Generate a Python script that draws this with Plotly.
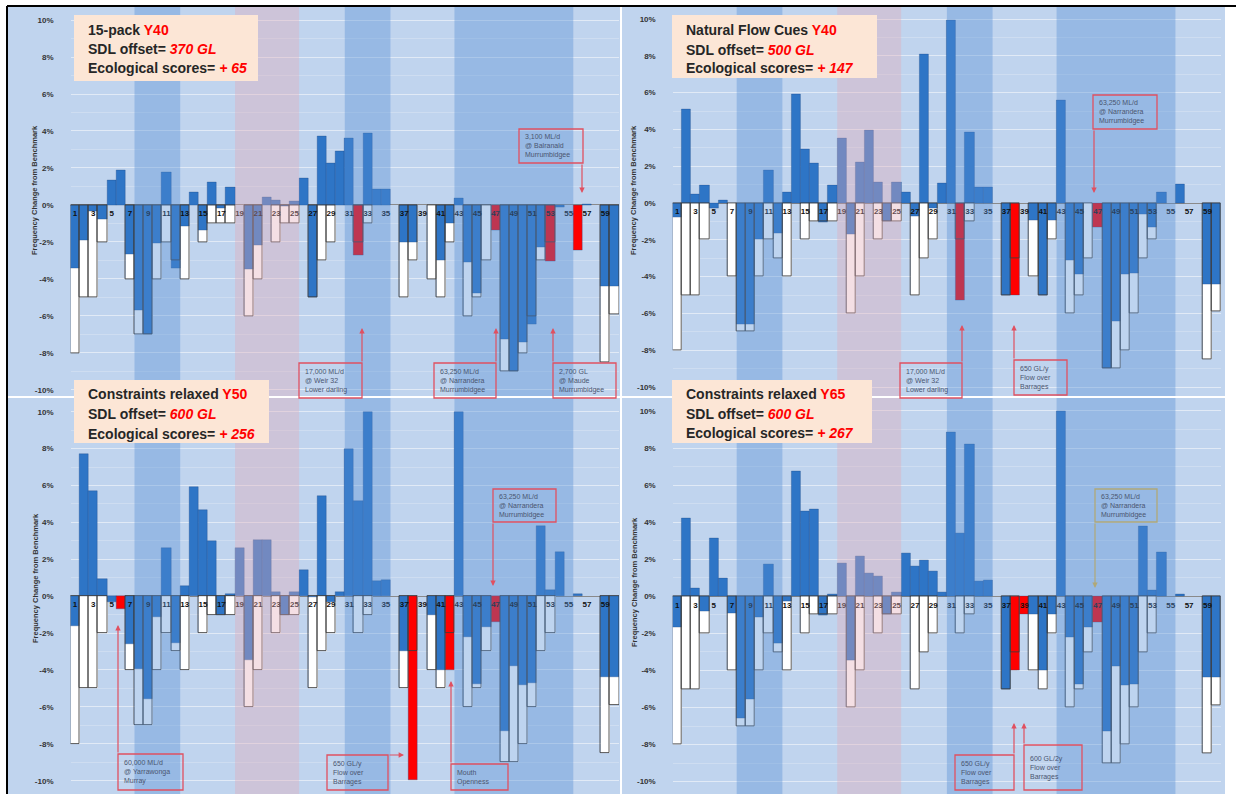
import plotly.graph_objects as go

W, H = 1236, 794

# ---------------- data ----------------
CATEGORIES = list(range(1, 61))
CAT_LABELS = [str(c) if c % 2 == 1 else "" for c in CATEGORIES]
Y_TICKS = [-10, -8, -6, -4, -2, 0, 2, 4, 6, 8, 10]
Y_TICK_TEXT = [f"{v}%" for v in Y_TICKS]

# benchmark target (white outlined bars), shared by the four scenarios
TARGET = [-8, -5, -5, -2, 0, 0, -4, -7, -7, -4,
          -2, -3, -4, 0, -2, -1, -1, -1, 0, -6,
          -4, 0, -2, -1, -1, 0, -5, -3, -2, 0,
          0, -2, -1, 0, 0, 0, -5, -3, 0, -4,
          -5, -2, 0, -6, -5, -3, 0, -9, -9, -8,
          -6, -3, -2, 0, 0, 0, 0, 0, -8.5, -5.9]

VAL_15PACK = [-3.4, -1.9, -0.35, -0.8, 1.35, 1.86, -2.65, -5.7, -7.0, -2.07,
              1.77, -3.4, -1.17, 0.68, -1.39, 1.24, -0.2, 0.95, 0, -3.48,
              -2.16, 0.4, 0.25, -0.05, 0.2, 1.44, -5.0, 3.69, 2.25, 2.88,
              3.6, -2.7, 3.87, 0.85, 0.85, 0, -2.0, -2.0, 0, 0,
              -3.0, -1.0, 0.35, -3.1, -4.77, 0, -1.35, -7.26, -9.0, -7.4,
              -6.45, -2.3, -3.06, -0.15, 0, -2.43, 0.05, 0, -4.38, -4.38]

VAL_NFC = [-0.8, 5.07, 0.49, 0.94, -0.27, 0.13, 0, -6.6, -6.6, -1.96,
           1.78, -1.63, 0.58, 5.92, 2.9, 2.14, -1.05, 0.96, 3.53, -1.72,
           2.21, 3.93, 1.12, -1.0, 1.12, 0.58, -0.72, 8.06, -0.27, 1.08,
           9.95, -5.3, 3.85, 0.83, 0.83, 0, -5.0, -5.0, 0, -0.94,
           -5.0, -0.94, 5.6, -3.1, -3.9, 0, -1.35, -9.0, -6.44, -3.9,
           -3.83, -0.6, -1.35, 0.6, 0, 1.0, 0, 0, -4.4, -4.4]

VAL_CR50 = [-1.62, 7.68, 5.68, 0.92, -0.3, -0.7, -2.61, -3.96, -5.57, -1.15,
            2.63, -2.56, 0.56, 5.9, 4.65, 2.99, -1.03, 0.1, 2.63, -3.46,
            3.06, 3.06, 0.23, -1.0, 0.23, 1.44, -0.05, 5.43, -0.34, 0.23,
            8.0, 5.15, 10.0, 0.83, 0.87, 0, -3.0, -9.97, 0, -1.0,
            -4.0, -4.0, 10.0, -2.24, -4.77, -1.66, -1.39, -7.3, -3.77, -4.82,
            -4.73, 3.79, 0.33, 2.37, 0, 0.09, 0, 0, -4.37, -4.37]

VAL_CR65 = [-1.66, 4.2, 0.45, -0.8, 3.12, 0.99, -0.94, -6.58, -5.57, -1.15,
            1.73, -2.56, -0.27, 6.76, 4.61, 4.7, -1.03, 0.09, 1.77, -3.46,
            2.16, 1.22, 1.1, -1.0, 0.23, 2.34, 1.64, 1.95, 1.37, 0.23,
            8.85, 3.42, 8.22, 0.83, 0.87, 0, -5.03, -4.0, -1.0, -1.0,
            -4.0, -1.0, 10.0, -2.24, -4.77, -1.66, -1.39, -7.3, -3.77, -4.8,
            -4.73, 3.79, 0.33, 2.37, 0, 0.09, 0, 0, -4.37, -4.37]

RED_15PACK = [32, 47, 53, 56]
RED_NFC = [32, 38, 47]
RED_CR50 = [6, 38, 42, 47]
RED_CR65 = [38, 39, 47]

BANDS_DARK = [(8, 12), (31, 35), (43, 55)]
BANDS_PINK = [(19, 25)]

# ---------------- style ----------------
BLUE = "#2E75C6"
RED = "#FF0000"
PANEL_BG = "#C0D4EE"
PLOT_BG = "#C7DAF1"
DARK_BAND = "rgba(84,141,212,0.38)"
PINK_BAND = "rgba(225,170,185,0.38)"
PEACH = "#FCE6D6"
FONT = "Liberation Sans, Arial, sans-serif"
R = 10.25


def px(x):
    return x / W


def py(y):
    return 1 - y / H


PANELS = [
    dict(vals=VAL_15PACK, red=RED_15PACK, xdom=(70.5, 619), zero=205, s=18.5,
         rect=(8, 620, 7, 396), box=(74, 258, 15, 81), tx=86, ly=(30, 49, 68),
         ylab=(35, 190),
         lines=["15-pack <span style='color:#FF0000'>Y40</span>",
                "SDL offset= <i><span style='color:#FF0000'>370 GL</span></i>",
                "Ecological scores= <i><span style='color:#FF0000'>+ 65</span></i>"]),
    dict(vals=VAL_NFC, red=RED_NFC, xdom=(672.7, 1221.1), zero=203, s=18.4,
         rect=(622, 1225, 7, 396), box=(672, 877, 15, 78), tx=684, ly=(30, 50, 68),
         ylab=(634, 190),
         lines=["Natural Flow Cues <span style='color:#FF0000'>Y40</span>",
                "SDL offset= <i><span style='color:#FF0000'>500 GL</span></i>",
                "Ecological scores= <i><span style='color:#FF0000'>+ 147</span></i>"]),
    dict(vals=VAL_CR50, red=RED_CR50, xdom=(70.5, 619), zero=596.2, s=18.45,
         rect=(8, 620, 398, 794), box=(74, 269, 380, 443), tx=86, ly=(394, 414, 434),
         ylab=(35, 578),
         lines=["Constraints relaxed <span style='color:#FF0000'>Y50</span>",
                "SDL offset= <i><span style='color:#FF0000'>600 GL</span></i>",
                "Ecological scores= <i><span style='color:#FF0000'>+ 256</span></i>"]),
    dict(vals=VAL_CR65, red=RED_CR65, xdom=(672.7, 1221.1), zero=596.3, s=18.53,
         rect=(622, 1225, 398, 794), box=(672, 872, 380, 443), tx=684, ly=(394, 414, 433),
         ylab=(634, 582),
         lines=["Constraints relaxed <span style='color:#FF0000'>Y65</span>",
                "SDL offset= <i><span style='color:#FF0000'>600 GL</span></i>",
                "Ecological scores= <i><span style='color:#FF0000'>+ 267</span></i>"]),
]

# callouts: panel index, box (x0,y0,x1,y1) px, text, arrow (from, to) px, colour
CALLOUTS = [
    (0, (519, 129, 583, 163), "3,100 ML/d<br>@ Balranald<br>Murrumbidgee", ((582, 163), (582, 193)), "#E05060"),
    (0, (299, 363, 362, 398), "17,000 ML/d<br>@ Weir 32<br>Lower darling", ((362, 363), (362, 328)), "#E05060"),
    (0, (434, 363, 496, 398), "63,250 ML/d<br>@ Narrandera<br>Murrumbidgee", ((496, 363), (496, 328)), "#E05060"),
    (0, (553, 363, 616, 398), "2,700 GL<br>@ Maude<br>Murrumbidgee", ((553, 363), (553, 328)), "#E05060"),
    (1, (1093, 95, 1157, 129), "63,250 ML/d<br>@ Narrandera<br>Murrumbidgee", ((1094, 129), (1094, 193)), "#E05060"),
    (1, (900, 363, 962, 398), "17,000 ML/d<br>@ Weir 32<br>Lower darling", ((962, 363), (962, 325)), "#E05060"),
    (1, (1014, 360, 1067, 395), "650 GL/y<br>Flow over<br>Barrages", ((1014, 360), (1014, 325)), "#E05060"),
    (2, (118, 754, 183, 790), "60,000 ML/d<br>@ Yarrawonga<br>Murray", ((118, 754), (118, 625)), "#E05060"),
    (2, (327, 755, 388, 790), "650 GL/y<br>Flow over<br>Barrages", ((388, 755), (404, 755)), "#E05060"),
    (2, (451, 764, 508, 790), "Mouth<br>Openness", ((451, 764), (451, 681)), "#E05060"),
    (2, (493, 489, 556, 522), "63,250 ML/d<br>@ Narrandera<br>Murrumbidgee", ((493, 522), (493, 586)), "#E05060"),
    (3, (1095, 489, 1157, 522), "63,250 ML/d<br>@ Narrandera<br>Murrumbidgee", ((1095, 522), (1095, 588)), "#B0A878"),
    (3, (955, 755, 1014, 790), "650 GL/y<br>Flow over<br>Barrages", ((1014, 755), (1014, 723)), "#E05060"),
    (3, (1024, 745, 1082, 790), "600 GL/2y<br>Flow over<br>Barrages", ((1024, 745), (1024, 723)), "#E05060"),
]

fig = go.Figure()
shapes = []
annotations = []
layout = {}

target_plot = [t if t != 0 else None for t in TARGET]

for i, p in enumerate(PANELS):
    n = "" if i == 0 else str(i + 1)
    xa, ya = "x" + n, "y" + n
    colors = [RED if c in p["red"] else BLUE for c in CATEGORIES]
    vals = [v if v != 0 else None for v in p["vals"]]

    fig.add_trace(go.Bar(x=CATEGORIES, y=target_plot, width=1, xaxis=xa, yaxis=ya,
                         marker=dict(color="white", line=dict(width=0)),
                         showlegend=False, hoverinfo="skip"))
    fig.add_trace(go.Bar(x=CATEGORIES, y=vals, width=1, xaxis=xa, yaxis=ya,
                         marker=dict(color=colors, line=dict(color="rgba(30,70,130,0.55)", width=0.6)),
                         showlegend=False))
    fig.add_trace(go.Bar(x=CATEGORIES, y=target_plot, width=1, xaxis=xa, yaxis=ya,
                         marker=dict(color="rgba(0,0,0,0)", line=dict(color="rgba(60,60,60,0.85)", width=1)),
                         showlegend=False, hoverinfo="skip"))
    fig.add_trace(go.Scatter(x=CATEGORIES, y=[-0.5] * len(CATEGORIES), text=CAT_LABELS,
                             mode="text", xaxis=xa, yaxis=ya, showlegend=False, hoverinfo="skip",
                             textfont=dict(family=FONT, size=8, color="#111111", weight="bold")))

    x0, x1 = p["xdom"]
    z, s = p["zero"], p["s"]
    layout["xaxis" + n] = dict(domain=[px(x0), px(x1)], range=[0.5, 60.5], anchor=ya,
                               showticklabels=False, showgrid=False, zeroline=False,
                               ticks="", fixedrange=True)
    layout["yaxis" + n] = dict(domain=[py(z + R * s), py(z - R * s)], range=[-R, R], anchor=xa,
                               tickvals=Y_TICKS, ticktext=Y_TICK_TEXT, ticks="",
                               ticklabelstandoff=16,
                               tickfont=dict(family=FONT, size=8, color="#333333", weight="bold"),
                               showgrid=True, gridcolor="rgba(255,255,255,0.4)", gridwidth=1,
                               minor=dict(dtick=1, showgrid=True, gridcolor="rgba(255,255,255,0.22)"),
                               zeroline=True, zerolinecolor="#8a8a8a", zerolinewidth=1,
                               fixedrange=True)

    rx0, rx1, ry0, ry1 = p["rect"]
    shapes.append(dict(type="rect", xref="paper", yref="paper", layer="below",
                       x0=px(rx0), x1=px(rx1), y0=py(ry1), y1=py(ry0),
                       fillcolor=PANEL_BG, line=dict(width=0)))
    for a, b in BANDS_DARK:
        shapes.append(dict(type="rect", xref=xa, yref="paper", layer="above",
                           x0=a - 0.5, x1=b + 0.5, y0=py(ry1), y1=py(ry0),
                           fillcolor=DARK_BAND, line=dict(width=0)))
    for a, b in BANDS_PINK:
        shapes.append(dict(type="rect", xref=xa, yref="paper", layer="above",
                           x0=a - 0.5, x1=b + 0.5, y0=py(ry1), y1=py(ry0),
                           fillcolor=PINK_BAND, line=dict(width=0)))

    # y-axis title
    lx, lyc = p["ylab"]
    annotations.append(dict(x=px(lx), y=py(lyc), xref="paper", yref="paper", showarrow=False,
                            xanchor="center", yanchor="middle",
                            text="Frequency Change from Benchmark", textangle=-90,
                            font=dict(family=FONT, size=7.5, color="#333333", weight="bold")))

# peach text boxes (after bands so they sit on top)
for p in PANELS:
    bx0, bx1, by0, by1 = p["box"]
    shapes.append(dict(type="rect", xref="paper", yref="paper", layer="above",
                       x0=px(bx0), x1=px(bx1), y0=py(by1), y1=py(by0),
                       fillcolor=PEACH, line=dict(width=0)))
    for txt, yy in zip(p["lines"], p["ly"]):
        annotations.append(dict(x=px(p["tx"]), y=py(yy), xref="paper", yref="paper",
                                xanchor="left", yanchor="middle", showarrow=False,
                                text="<b>" + txt + "</b>",
                                font=dict(family=FONT, size=14, color="#262626")))

# callout boxes and arrows
for _, (cx0, cy0, cx1, cy1), txt, (a_from, a_to), col in CALLOUTS:
    shapes.append(dict(type="rect", xref="paper", yref="paper", layer="above",
                       x0=px(cx0), x1=px(cx1), y0=py(cy1), y1=py(cy0),
                       fillcolor="rgba(0,0,0,0)", line=dict(color=col, width=1.3)))
    annotations.append(dict(x=px(cx0 + 4), y=py((cy0 + cy1) / 2), xref="paper", yref="paper",
                            xanchor="left", yanchor="middle", showarrow=False, align="left",
                            text=txt, font=dict(family=FONT, size=7, color="#4a5570")))
    annotations.append(dict(x=px(a_to[0]), y=py(a_to[1]), xref="paper", yref="paper",
                            ax=a_from[0] - a_to[0], ay=a_from[1] - a_to[1], text="",
                            showarrow=True, arrowhead=2, arrowsize=0.9, arrowwidth=1.2,
                            arrowcolor=col))

# page frame lines
shapes.append(dict(type="line", xref="paper", yref="paper", layer="above",
                   x0=px(7), x1=px(7), y0=py(794), y1=py(6), line=dict(color="black", width=2)))
shapes.append(dict(type="line", xref="paper", yref="paper", layer="above",
                   x0=px(7), x1=px(1236), y0=py(6), y1=py(6), line=dict(color="black", width=2)))

fig.update_layout(width=W, height=H, margin=dict(l=0, r=0, t=0, b=0),
                  paper_bgcolor="white", plot_bgcolor=PLOT_BG, barmode="overlay",
                  bargap=0, showlegend=False, shapes=shapes, annotations=annotations,
                  font=dict(family=FONT), **layout)

fig.write_html("out.html", config={"displayModeBar": False},
               post_script="document.body.style.margin='0px';document.body.style.overflow='hidden';")
